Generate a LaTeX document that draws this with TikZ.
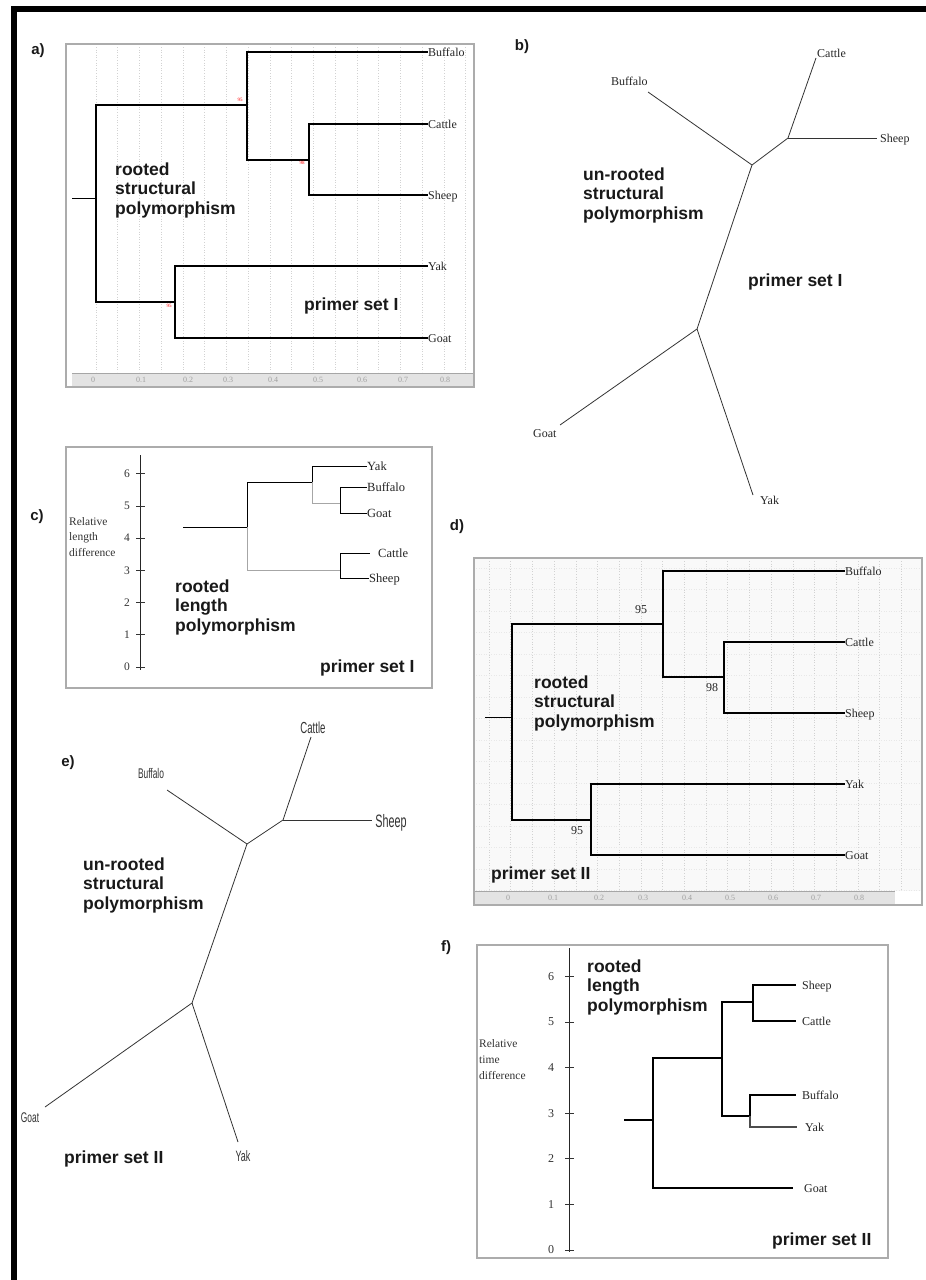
\documentclass[tikz,border=0pt]{standalone}
\usepackage{fontspec}
\setmainfont{Liberation Serif}
\newfontfamily\arialfont{Liberation Sans}
\newfontfamily\narrowfont[FakeStretch=0.6]{Liberation Sans}
\begin{document}
\begin{tikzpicture}[x=1pt,y=-1pt,
  frame/.style={draw=gray!65, line width=1.3pt},
  ruler/.style={fill=gray!22},
  gridl/.style={gray!35, dotted, line width=0.6pt},
  thk/.style={line width=1.8pt, black},
  thn/.style={line width=0.9pt, black},
  big/.style={font=\arialfont\bfseries\fontsize{17.5}{19.5}\selectfont, inner sep=0pt, align=left, text=black!90},
  plab/.style={font=\arialfont\bfseries\fontsize{15}{17}\selectfont, inner sep=0pt, text=black!90},
  leaf/.style={font=\fontsize{12}{14}\selectfont, inner sep=0pt, anchor=west, text=black!85, text height=8pt, text depth=0pt},
  tickl/.style={font=\fontsize{8}{9}\selectfont, text=gray!75, inner sep=0pt},
  axl/.style={font=\fontsize{11.5}{13}\selectfont, text=black!80, inner sep=0pt},
  boot/.style={font=\fontsize{12}{14}\selectfont, inner sep=0pt, text=black!85},
  redboot/.style={font=\fontsize{5}{6}\selectfont, text=red, inner sep=0pt},
  unr/.style={line width=0.8pt, black!80},
  nar/.style={inner sep=0pt, text=black!80}
]
\useasboundingbox (0,0) rectangle (926,1280);
\fill[white] (0,0) rectangle (926,1280);
% outer black border
\fill[black] (11,6) rectangle (926,12);
\fill[black] (11,6) rectangle (17,1280);

% ================= panel a =================
\node[plab] (la) at (38,51) {a)};
\foreach \k in {0,...,17} \draw[gridl] ({96+21.75*\k},47) -- ({96+21.75*\k},372);
\fill[ruler] (72,373) rectangle (474,387);
\draw[gray!70, line width=1pt] (72,373) -- (474,373);
\draw[frame] (66,44) rectangle (474,387);
\foreach \t/\x [count=\i] in {0/93,0.1/141,0.2/188,0.3/228,0.4/273,0.5/318,0.6/362,0.7/403,0.8/445}
  \node[tickl] (ta\i) at (\x,380) {\t};
\coordinate (as) at (72,198);
\coordinate (a0) at (96,198);
\coordinate (a1) at (247,105);
\coordinate (a2) at (309,160);
\coordinate (a3) at (175,302);
\node[leaf] (aBuf) at (428,52) {Buffalo};
\node[leaf] (aCat) at (428,124) {Cattle};
\node[leaf] (aShe) at (428,195) {Sheep};
\node[leaf] (aYak) at (428,266) {Yak};
\node[leaf] (aGoa) at (428,338) {Goat};
\draw[thn] (as) -- (a0);
\draw[thk] (a0) |- (a1);
\draw[thk] (a0) |- (a3);
\draw[thk] (a1) |- (aBuf.west);
\draw[thk] (a1) |- (a2);
\draw[thk] (a2) |- (aCat.west);
\draw[thk] (a2) |- (aShe.west);
\draw[thk] (a3) |- (aYak.west);
\draw[thn, line width=1.2pt] (a3) |- (aGoa.west);
\node[redboot] (ab1) at (240,100) {95};
\node[redboot] (ab2) at (302,163) {98};
\node[redboot] (ab3) at (169,306) {95};
\node[big, anchor=north west] (atxt) at (115,162.5) {rooted\\structural\\polymorphism};
\node[big, anchor=base west] (aps) at (304,310) {primer set I};

% ================= panel b =================
\node[plab] (lb) at (522,47) {b)};
\coordinate (b1) at (752,165);
\coordinate (b2) at (788,138);
\coordinate (b3) at (697,329);
\coordinate (bCatE) at (816,58);
\coordinate (bBufE) at (648,92);
\coordinate (bSheE) at (877,138);
\coordinate (bGoaE) at (560,425);
\coordinate (bYakE) at (753,495);
\node[leaf] (bCat) at (817,53) {Cattle};
\node[leaf] (bBuf) at (611,81) {Buffalo};
\node[leaf] (bShe) at (880,138) {Sheep};
\node[leaf] (bGoa) at (533,433) {Goat};
\node[leaf] (bYak) at (760,500) {Yak};
\draw[unr] (bBufE) -- (b1) -- (b2) -- (bCatE);
\draw[unr] (b2) -- (bSheE);
\draw[unr] (b1) -- (b3) -- (bGoaE);
\draw[unr] (b3) -- (bYakE);
\node[big, anchor=north west] (btxt) at (583,167.5) {un-rooted\\structural\\polymorphism};
\node[big, anchor=base west] (bps) at (748,286) {primer set I};

% ================= panel c =================
\node[plab] (lc) at (37,517) {c)};
\draw[frame] (66,447) rectangle (432,688);
\draw[line width=0.9pt, black!85] (140,455) -- (140,670);
\foreach \v in {0,...,6} {
  \draw[line width=0.8pt, black!80] (136,{667-32.2*\v}) -- (145,{667-32.2*\v});
  \node[axl] (ct\v) at (127,{667-32.2*\v}) {\v};
}
\node[axl, anchor=north west, align=left, font=\fontsize{11.5}{15.5}\selectfont] (cax) at (69,517) {Relative\\length\\difference};
\coordinate (cs) at (183,527);
\coordinate (c0) at (247,527);
\coordinate (c1) at (312,482);
\coordinate (c2) at (340,503);
\coordinate (c3) at (340,570);
\node[leaf, font=\fontsize{12.5}{14}\selectfont] (cYak) at (367,466) {Yak};
\node[leaf, font=\fontsize{12.5}{14}\selectfont] (cBuf) at (367,487) {Buffalo};
\node[leaf, font=\fontsize{12.5}{14}\selectfont] (cGoa) at (367,513) {Goat};
\node[leaf, font=\fontsize{12.5}{14}\selectfont] (cCat) at (378,553) {Cattle};
\node[leaf, font=\fontsize{12.5}{14}\selectfont] (cShe) at (369,578) {Sheep};
\draw[thn] (cs) -- (c0);
\draw[thn] (c0) |- (c1);
\draw[thn, gray!70] (c0) |- (c3);
\draw[thn] (c1) |- (cYak.west);
\draw[thn, gray!70] (c1) |- (c2);
\draw[thn] (c2) |- (cBuf.west);
\draw[thn] (c2) |- (cGoa.west);
\draw[thn] (c3) |- ([xshift=-8pt]cCat.west);
\draw[thn] (c3) |- (cShe.west);
\node[big, anchor=base west] (ctxt) at (175,592) {rooted};
\node[big, anchor=base west] (ctxt2) at (175,611.5) {length};
\node[big, anchor=base west] (ctxt3) at (175,631) {polymorphism};
\node[big, anchor=base west] (cps) at (320,672) {primer set I};

% ================= panel d =================
\node[plab] (ld) at (457,527) {d)};
\fill[gray!5] (474,558) rectangle (922,891);
\foreach \k in {0,...,19} \draw[gridl] ({489+21.7*\k},561) -- ({489+21.7*\k},890);
\foreach \k in {0,...,15} \draw[gray!18, dotted, line width=0.5pt] (476,{568+21.5*\k}) -- (920,{568+21.5*\k});
\fill[ruler] (473,891) rectangle (895,905);
\draw[gray!70, line width=1pt] (473,891) -- (895,891);
\draw[frame] (474,558) rectangle (922,905);
\foreach \t/\x [count=\i] in {0/508,0.1/553,0.2/599,0.3/643,0.4/687,0.5/730,0.6/773,0.7/816,0.8/859}
  \node[tickl] (td\i) at (\x,898) {\t};
\coordinate (ds) at (485,717);
\coordinate (d0) at (512,717);
\coordinate (d1) at (663,624);
\coordinate (d2) at (724,677);
\coordinate (d3) at (591,820);
\node[leaf] (dBuf) at (845,571) {Buffalo};
\node[leaf] (dCat) at (845,642) {Cattle};
\node[leaf] (dShe) at (845,713) {Sheep};
\node[leaf] (dYak) at (845,784) {Yak};
\node[leaf] (dGoa) at (845,855) {Goat};
\draw[thn] (ds) -- (d0);
\draw[thk] (d0) |- (d1);
\draw[thk] (d0) |- (d3);
\draw[thk] (d1) |- (dBuf.west);
\draw[thk] (d1) |- (d2);
\draw[thk] (d2) |- (dCat.west);
\draw[thk] (d2) |- (dShe.west);
\draw[thk] (d3) |- (dYak.west);
\draw[thn, line width=1.2pt] (d3) |- (dGoa.west);
\node[boot] (db1) at (641,610) {95};
\node[boot] (db2) at (712,688) {98};
\node[boot] (db3) at (577,831) {95};
\node[big, anchor=north west] (dtxt) at (534,675.5) {rooted\\structural\\polymorphism};
\node[big, anchor=base west] (dps) at (491,879) {primer set II};

% ================= panel e =================
\node[plab] (le) at (68,763) {e)};
\coordinate (e1) at (247,844);
\coordinate (e2) at (283,820);
\coordinate (e3) at (192,1003);
\coordinate (eBufE) at (167,790);
\coordinate (eCatE) at (311,737);
\coordinate (eSheE) at (372,820);
\coordinate (eGoaE) at (45,1107);
\coordinate (eYakE) at (238,1142);
\node[nar, font=\narrowfont\fontsize{14}{16}\selectfont] (eBuf) at (151,773) {Buffalo};
\node[nar, font=\narrowfont\fontsize{16}{18}\selectfont] (eCat) at (313,728) {Cattle};
\node[nar, font=\narrowfont\fontsize{18}{20}\selectfont] (eShe) at (391,823) {Sheep};
\node[nar, font=\narrowfont\fontsize{14}{16}\selectfont] (eGoa) at (30,1118) {Goat};
\node[nar, font=\narrowfont\fontsize{15}{17}\selectfont] (eYak) at (243,1156) {Yak};
\draw[unr] (eBufE) -- (e1) -- (e2) -- (eCatE);
\draw[unr] (e2) -- (eSheE);
\draw[unr] (e1) -- (e3) -- (eGoaE);
\draw[unr] (e3) -- (eYakE);
\node[big, anchor=north west] (etxt) at (83,857.5) {un-rooted\\structural\\polymorphism};
\node[big, anchor=base west] (eps) at (64,1163) {primer set II};

% ================= panel f =================
\node[plab] (lf) at (446,948) {f)};
\draw[frame] (477,945) rectangle (888,1258);
\draw[line width=0.9pt, black!85] (569,948) -- (569,1252);
\foreach \v in {0,...,6} {
  \draw[line width=0.9pt, black!80] (565,{1250-45.6*\v}) -- (574,{1250-45.6*\v});
  \node[axl, font=\fontsize{12}{14}\selectfont] (ft\v) at (551,{1250-45.6*\v}) {\v};
}
\node[axl, anchor=north west, align=left, font=\fontsize{11.5}{16}\selectfont] (fax) at (479,1039) {Relative\\time\\difference};
\coordinate (fs) at (624,1120);
\coordinate (f0) at (653,1120);
\coordinate (f1) at (722,1058);
\coordinate (f2) at (753,1002);
\coordinate (f3) at (750,1116);
\node[leaf] (fShe) at (802,985) {Sheep};
\node[leaf] (fCat) at (802,1021) {Cattle};
\node[leaf] (fBuf) at (802,1095) {Buffalo};
\node[leaf] (fYak) at (805,1127) {Yak};
\node[leaf] (fGoa) at (804,1188) {Goat};
\draw[thn, line width=1.2pt] (fs) -- (f0);
\draw[thn, line width=1.6pt] (f0) |- (f1);
\draw[thn, line width=1.2pt] (f0) |- ([xshift=-11pt]fGoa.west);
\draw[thn, line width=1.6pt] (f1) |- (f2);
\draw[thn, line width=1.6pt] (f1) |- (f3);
\draw[thn, line width=1.6pt] (f2) |- ([xshift=-6pt]fShe.west);
\draw[thn, line width=1.2pt] (f2) |- ([xshift=-6pt]fCat.west);
\draw[thn, line width=1.2pt] (f3) |- ([xshift=-6pt]fBuf.west);
\draw[thn, line width=1.6pt, black!70] (f3) |- ([xshift=-8pt]fYak.west);
\node[big, anchor=base west] (ftxt) at (587,972) {rooted};
\node[big, anchor=base west] (ftxt2) at (587,991.5) {length};
\node[big, anchor=base west] (ftxt3) at (587,1011) {polymorphism};
\node[big, anchor=base west] (fps) at (772,1245) {primer set II};
\end{tikzpicture}
\end{document}
